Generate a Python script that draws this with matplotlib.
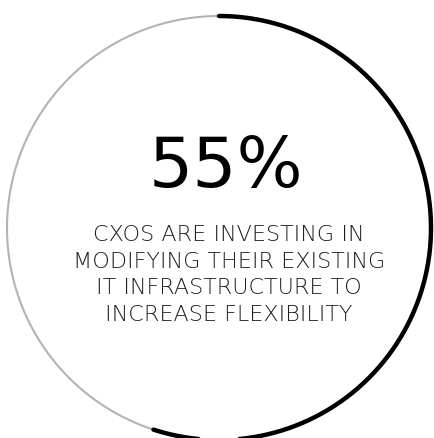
import numpy as np
import matplotlib.pyplot as plt

# data
share = 55  # percent
headline = "55%"
caption = ["CXOS ARE INVESTING IN",
           "MODIFYING THEIR EXISTING",
           "IT INFRASTRUCTURE TO",
           "INCREASE FLEXIBILITY"]

fig = plt.figure(figsize=(4.35, 4.39), dpi=100)
ax = fig.add_axes([0, 0, 1, 1])
ax.set_xlim(0, 435)
ax.set_ylim(439, 0)
ax.axis("off")

cx, cy, r = 219, 229, 212

# grey background ring, then the black share arc (clockwise from the top)
t = np.linspace(0, 2 * np.pi, 400)
ax.plot(cx + r * np.sin(t), cy - r * np.cos(t), color="#b3b3b3", lw=1.5,
        solid_capstyle="butt")
t = np.linspace(0, 2 * np.pi * share / 100, 300)
ax.plot(cx + r * np.sin(t), cy - r * np.cos(t), color="black", lw=3.2,
        solid_capstyle="round")

ax.text(226, 161, headline, ha="center", va="center_baseline", fontsize=50,
        family="DejaVu Sans", color="black")
for i, line in enumerate(caption):
    ax.text(229, 233 + i * 26.7, line, ha="center", va="center_baseline",
            fontsize=16, family="DejaVu Sans", weight=200, color="#1e1e1e")

fig.savefig("out.png", dpi=100)
